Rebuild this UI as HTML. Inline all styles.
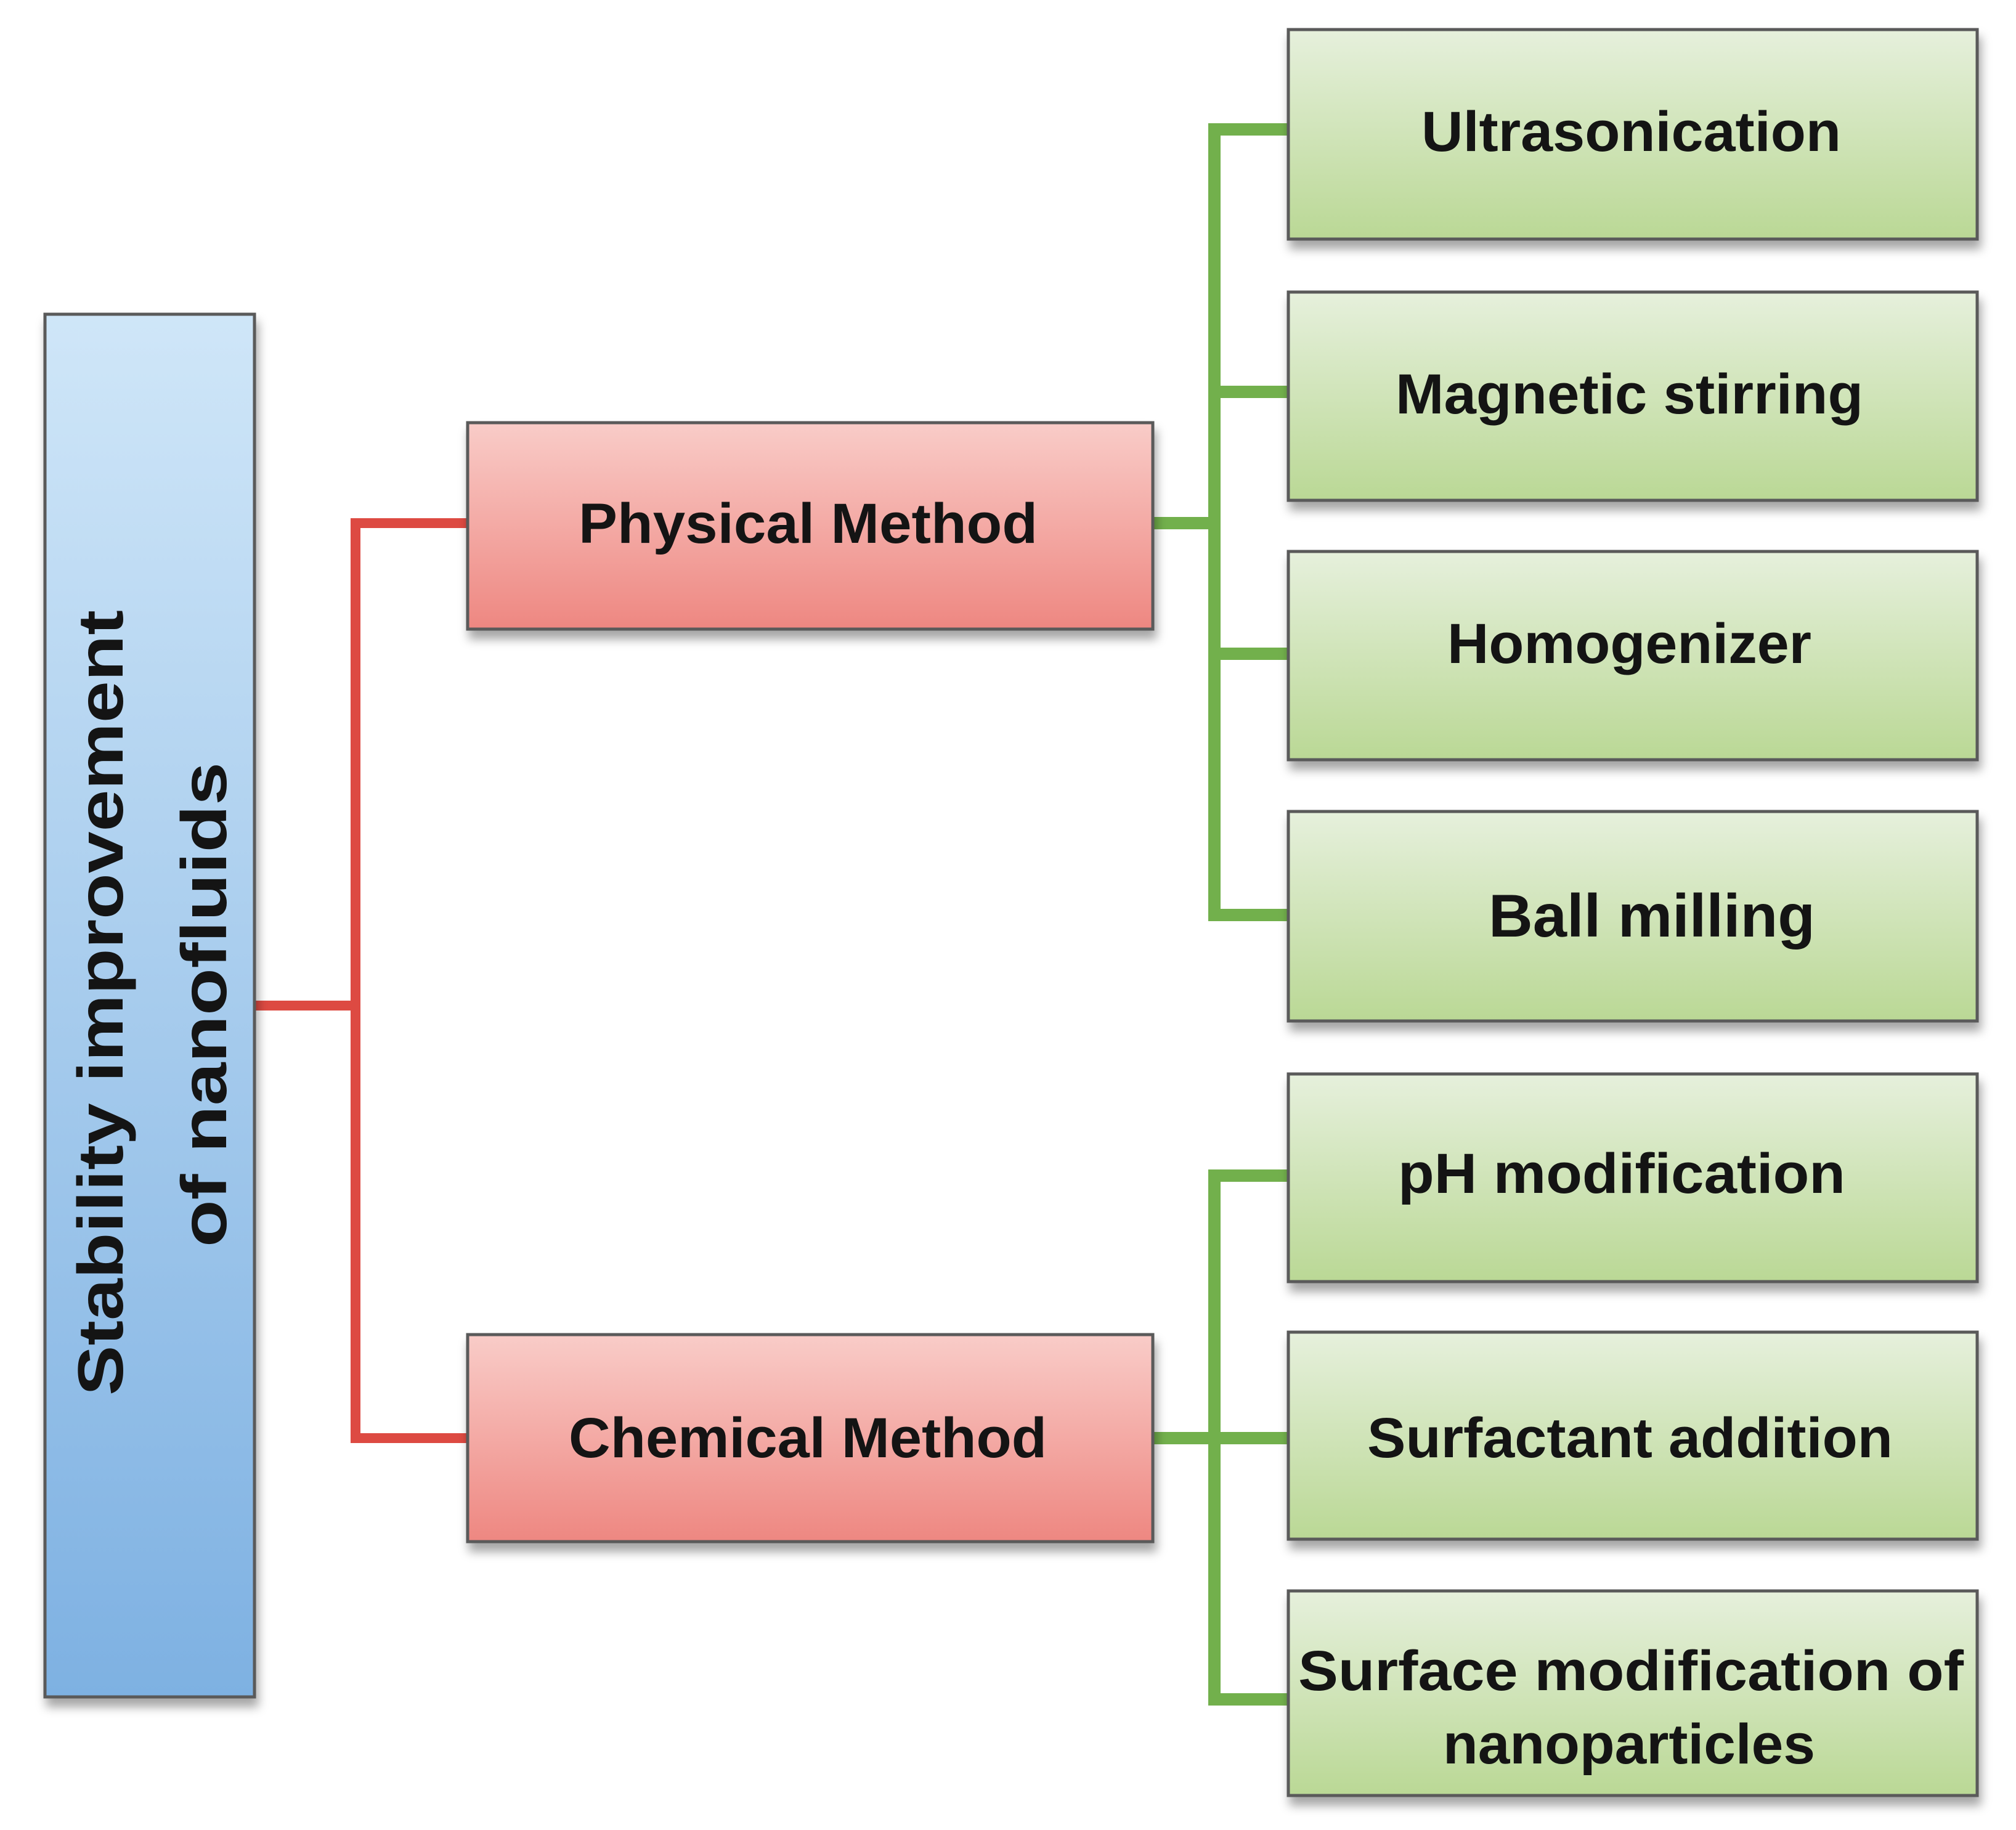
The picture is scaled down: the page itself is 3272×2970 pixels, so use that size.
<!DOCTYPE html>
<html><head><meta charset="utf-8"><style>
html,body{margin:0;padding:0;background:#fff;}
svg{display:block;}
text{font-family:"Liberation Sans",Arial,sans-serif;font-weight:bold;fill:#141414;}
</style></head><body>
<svg width="3272" height="2970" viewBox="0 0 3272 2970" xmlns="http://www.w3.org/2000/svg">
<defs>
<linearGradient id="gb" x1="0" y1="0" x2="0" y2="1"><stop offset="0" stop-color="#cfe6f8"/><stop offset="1" stop-color="#7eb1e2"/></linearGradient>
<linearGradient id="gr" x1="0" y1="0" x2="0" y2="1"><stop offset="0" stop-color="#f9ccc8"/><stop offset="1" stop-color="#ee8781"/></linearGradient>
<linearGradient id="gg" x1="0" y1="0" x2="0" y2="1"><stop offset="0" stop-color="#e6f0dc"/><stop offset="1" stop-color="#bad895"/></linearGradient>
<filter id="sh" x="-10%" y="-10%" width="120%" height="130%"><feDropShadow dx="4" dy="14" stdDeviation="8" flood-color="#000" flood-opacity="0.35"/></filter>
</defs>
<!-- red connectors -->
<g stroke="#dd4a42" stroke-width="16" fill="none">
<polyline points="413,1632 577,1632"/>
<polyline points="759,849 577,849 577,2334 759,2334"/>
</g>
<!-- green connectors -->
<g stroke="#72b04c" stroke-width="20" fill="none">
<polyline points="1871,849 1971,849"/>
<polyline points="2091,210 1971,210 1971,1485 2091,1485"/>
<polyline points="1971,636 2091,636"/>
<polyline points="1971,1061 2091,1061"/>
<polyline points="1871,2334 2091,2334"/>
<polyline points="2091,1908 1971,1908 1971,2758 2091,2758"/>
</g>
<!-- boxes -->
<g stroke="#5a5a5a" stroke-width="5" filter="url(#sh)">
<rect x="73" y="510" width="340" height="2244" fill="url(#gb)"/>
<rect x="759" y="686" width="1112" height="335" fill="url(#gr)"/>
<rect x="759" y="2166" width="1112" height="336" fill="url(#gr)"/>
<rect x="2091" y="48" width="1118" height="340" fill="url(#gg)"/>
<rect x="2091" y="474" width="1118" height="338" fill="url(#gg)"/>
<rect x="2091" y="895" width="1118" height="338" fill="url(#gg)"/>
<rect x="2091" y="1317" width="1118" height="340" fill="url(#gg)"/>
<rect x="2091" y="1743" width="1118" height="337" fill="url(#gg)"/>
<rect x="2091" y="2162" width="1118" height="336" fill="url(#gg)"/>
<rect x="2091" y="2582" width="1118" height="332" fill="url(#gg)"/>
</g>
<!-- labels -->
<g font-size="92">
<text x="939" y="881" textLength="745" lengthAdjust="spacingAndGlyphs">Physical Method</text>
<text x="923" y="2365" textLength="776" lengthAdjust="spacingAndGlyphs">Chemical Method</text>
<text x="2307" y="245" textLength="681" lengthAdjust="spacingAndGlyphs">Ultrasonication</text>
<text x="2265" y="671" textLength="759" lengthAdjust="spacingAndGlyphs">Magnetic stirring</text>
<text x="2349" y="1076" textLength="591" lengthAdjust="spacingAndGlyphs">Homogenizer</text>
<text x="2416" y="1520" font-size="98" font-weight="normal" style="font-weight:600" textLength="530" lengthAdjust="spacingAndGlyphs">Ball milling</text>
<text x="2269" y="1936" textLength="726" lengthAdjust="spacingAndGlyphs">pH  modification</text>
<text x="2219" y="2365" textLength="853" lengthAdjust="spacingAndGlyphs">Surfactant addition</text>
<text x="2107" y="2743" textLength="1080" lengthAdjust="spacingAndGlyphs">Surface  modification of</text>
<text x="2342" y="2862" textLength="604" lengthAdjust="spacingAndGlyphs">nanoparticles</text>
</g>
<g font-size="104">
<text transform="translate(199,2265) rotate(-90)" textLength="1275" lengthAdjust="spacingAndGlyphs">Stability improvement</text>
<text transform="translate(367,2024) rotate(-90)" textLength="787" lengthAdjust="spacingAndGlyphs">of  nanofluids</text>
</g>
</svg>
</body></html>
